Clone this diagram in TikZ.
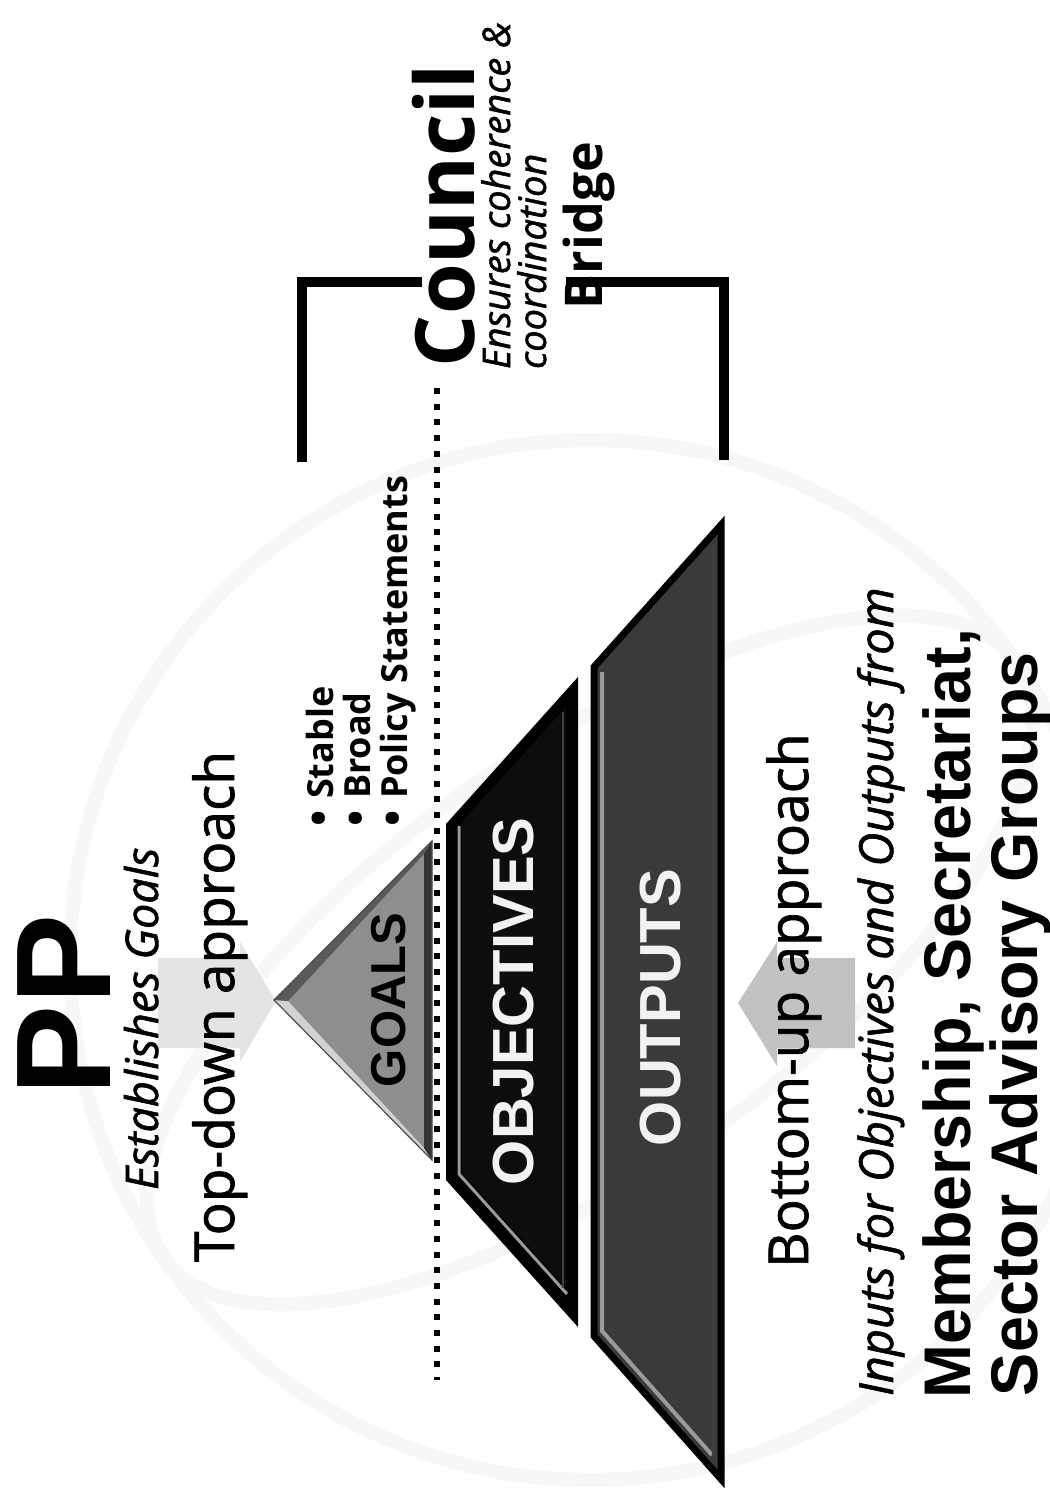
\documentclass[tikz,border=0pt]{standalone}
\usepackage{fontspec}
\newfontfamily\arialf{Liberation Sans}
\newfontfamily\frut{Open Sans}
\newfontfamily\frutm[FakeBold=1.3]{Open Sans}
\definecolor{goalgray}{HTML}{8E8E8E}
\definecolor{goallight}{HTML}{D2D2D2}
\definecolor{goaldark}{HTML}{5A5A5A}
\definecolor{outgray}{HTML}{3A3A3A}
\definecolor{bevel}{HTML}{9A9A9A}
\definecolor{arrowtop}{HTML}{E4E4E4}
\definecolor{arrowbot}{HTML}{C2C2C2}
\definecolor{wmark}{HTML}{F7F7F7}
\definecolor{labelwhite}{HTML}{F2F2F2}
\newcommand{\bigbullet}{\raisebox{-0.05em}{\scalebox{1.2}{•}}}
\tikzset{
  txt/.style={rotate=90, anchor=base west, inner sep=0pt, outer sep=0pt},
  wm/.style={draw=wmark, line width=14pt},
  bracketline/.style={draw=black, line width=10pt, line join=miter, line cap=butt},
  dotline/.style={draw=black, line width=6pt, dash pattern=on 6pt off 9.7pt},
  bulletfont/.style={font=\frut\bfseries\fontsize{36}{40}\selectfont},
}
\begin{document}
\begin{tikzpicture}[x=1pt,y=-1pt]
\useasboundingbox (0,0) rectangle (1049,1501);
\fill[white] (0,0) rectangle (1049,1501);

% faint watermark
\draw[wm] (590,960) circle (520);
\draw[wm, rotate around={35:(590,960)}] (590,960) ellipse (520 and 210);

% arrows
\fill[arrowtop] (158,958) -- (240,958) -- (240,942) -- (276,1001) -- (240,1062) -- (240,1048) -- (158,1048) -- cycle;
\fill[arrowbot] (855,958) -- (777,958) -- (777,942) -- (738,1003) -- (777,1066) -- (777,1048) -- (855,1048) -- cycle;

% GOALS triangle
\coordinate (gA) at (274,1000);
\coordinate (gT) at (432,841);
\coordinate (gB) at (432,1160);
\fill[goalgray] (gA) -- (gT) -- (gB) -- cycle;
\fill[goallight] (gA) -- (gB) -- (424,1148) -- (288,1001) -- cycle;
\fill[goaldark] (gA) -- (gT) -- (424,854) -- (288,1001) -- cycle;
\fill[black!80] (424,854) -- (gT) -- (gB) -- (424,1148) -- cycle;
\draw[black!70, line width=1.2pt, line join=miter] (gA) -- (gT) -- (gB) -- cycle;

% OBJECTIVES trapezoid
\coordinate (oTL) at (446,824);
\coordinate (oTR) at (578,677);
\coordinate (oBR) at (578,1327);
\coordinate (oBL) at (446,1180);
\fill[black] (oTL) -- (oTR) -- (oBR) -- (oBL) -- cycle;
\fill[black!95] (462,822) -- (566,707) -- (566,1288) -- (462,1172) -- cycle;
\draw[bevel, line width=3pt] (459,826) -- (459,1174) -- (567,1294);
\draw[black!75, line width=2pt] (563,712) -- (563,1288);

% OUTPUTS trapezoid
\coordinate (uTL) at (594,667);
\coordinate (uTR) at (721,525);
\coordinate (uBR) at (721,1479);
\coordinate (uBL) at (594,1336);
\fill[outgray] (uTL) -- (uTR) -- (uBR) -- (uBL) -- cycle;
\draw[black, line width=7pt, line join=miter] (uTL) -- (uTR) -- (uBR) -- (uBL) -- cycle;
\draw[bevel, line width=4pt] (602,672) -- (602,1331) -- (712,1455);
\draw[black!75, line width=3pt] (713,545) -- (713,1455);

% dotted separator
\coordinate (dTop) at (437,388);
\coordinate (dBot) at (437,1380);
\draw[dotline] (dTop) -- (dBot);

% brackets
\draw[bracketline] (302,462) -- (302,282) -- (422,282);
\draw[bracketline] (566,282) -- (724,282) -- (724,460);

% texts
\node[txt, font=\arialf\bfseries\fontsize{135}{140}\selectfont] (pp) at (110,1095) {PP};
\node[txt, font=\frutm\itshape\fontsize{45}{50}\selectfont] (estab) at (158,1190) {Establishes Goals};
\node[txt, font=\frutm\fontsize{55}{60}\selectfont] (topdown) at (234,1262) {Top-down approach};

\node[txt, font=\arialf\bfseries\fontsize{49}{54}\selectfont] (goals) at (405,1087) {GOALS};
\node[txt, text=labelwhite, font=\arialf\bfseries\fontsize{58}{64}\selectfont] (objectives) at (533,1185) {OBJECTIVES};
\node[txt, text=labelwhite, font=\arialf\bfseries\fontsize{58}{64}\selectfont] (outputs) at (680,1146) {OUTPUTS};

\node[txt, bulletfont] (stable) at (333,826) {\bigbullet\kern0.3em Stable};
\node[txt, bulletfont] (broad) at (370,826) {\bigbullet\kern0.3em Broad};
\node[txt, bulletfont] (policy) at (407,826) {\bigbullet\kern0.3em Policy Statements};

\node[txt, font=\frut\bfseries\fontsize{82}{88}\selectfont] (council) at (474,367) {Council};
\node[txt, font=\frutm\itshape\fontsize{38}{42}\selectfont] (ensures) at (510,369) {Ensures coherence \&};
\node[txt, font=\frutm\itshape\fontsize{38}{42}\selectfont] (coord) at (546,369) {coordination};
\node[txt, font=\frut\bfseries\fontsize{52}{56}\selectfont] (bridge) at (602,309) {Bridge};

\node[txt, font=\frutm\fontsize{55}{60}\selectfont] (bottomup) at (808,1268) {Bottom-up approach};
\node[txt, font=\frutm\itshape\fontsize{47}{52}\selectfont] (inputs) at (893,1396) {Inputs for Objectives and Outputs from};
\node[txt, font=\arialf\bfseries\fontsize{66}{70}\selectfont] (members) at (970,1398) {\scalebox{0.98}[1]{Membership, Secretariat,}};
\node[txt, font=\arialf\bfseries\fontsize{66}{70}\selectfont] (sector) at (1037,1396) {\scalebox{0.98}[1]{Sector Advisory Groups}};
\end{tikzpicture}
\end{document}
